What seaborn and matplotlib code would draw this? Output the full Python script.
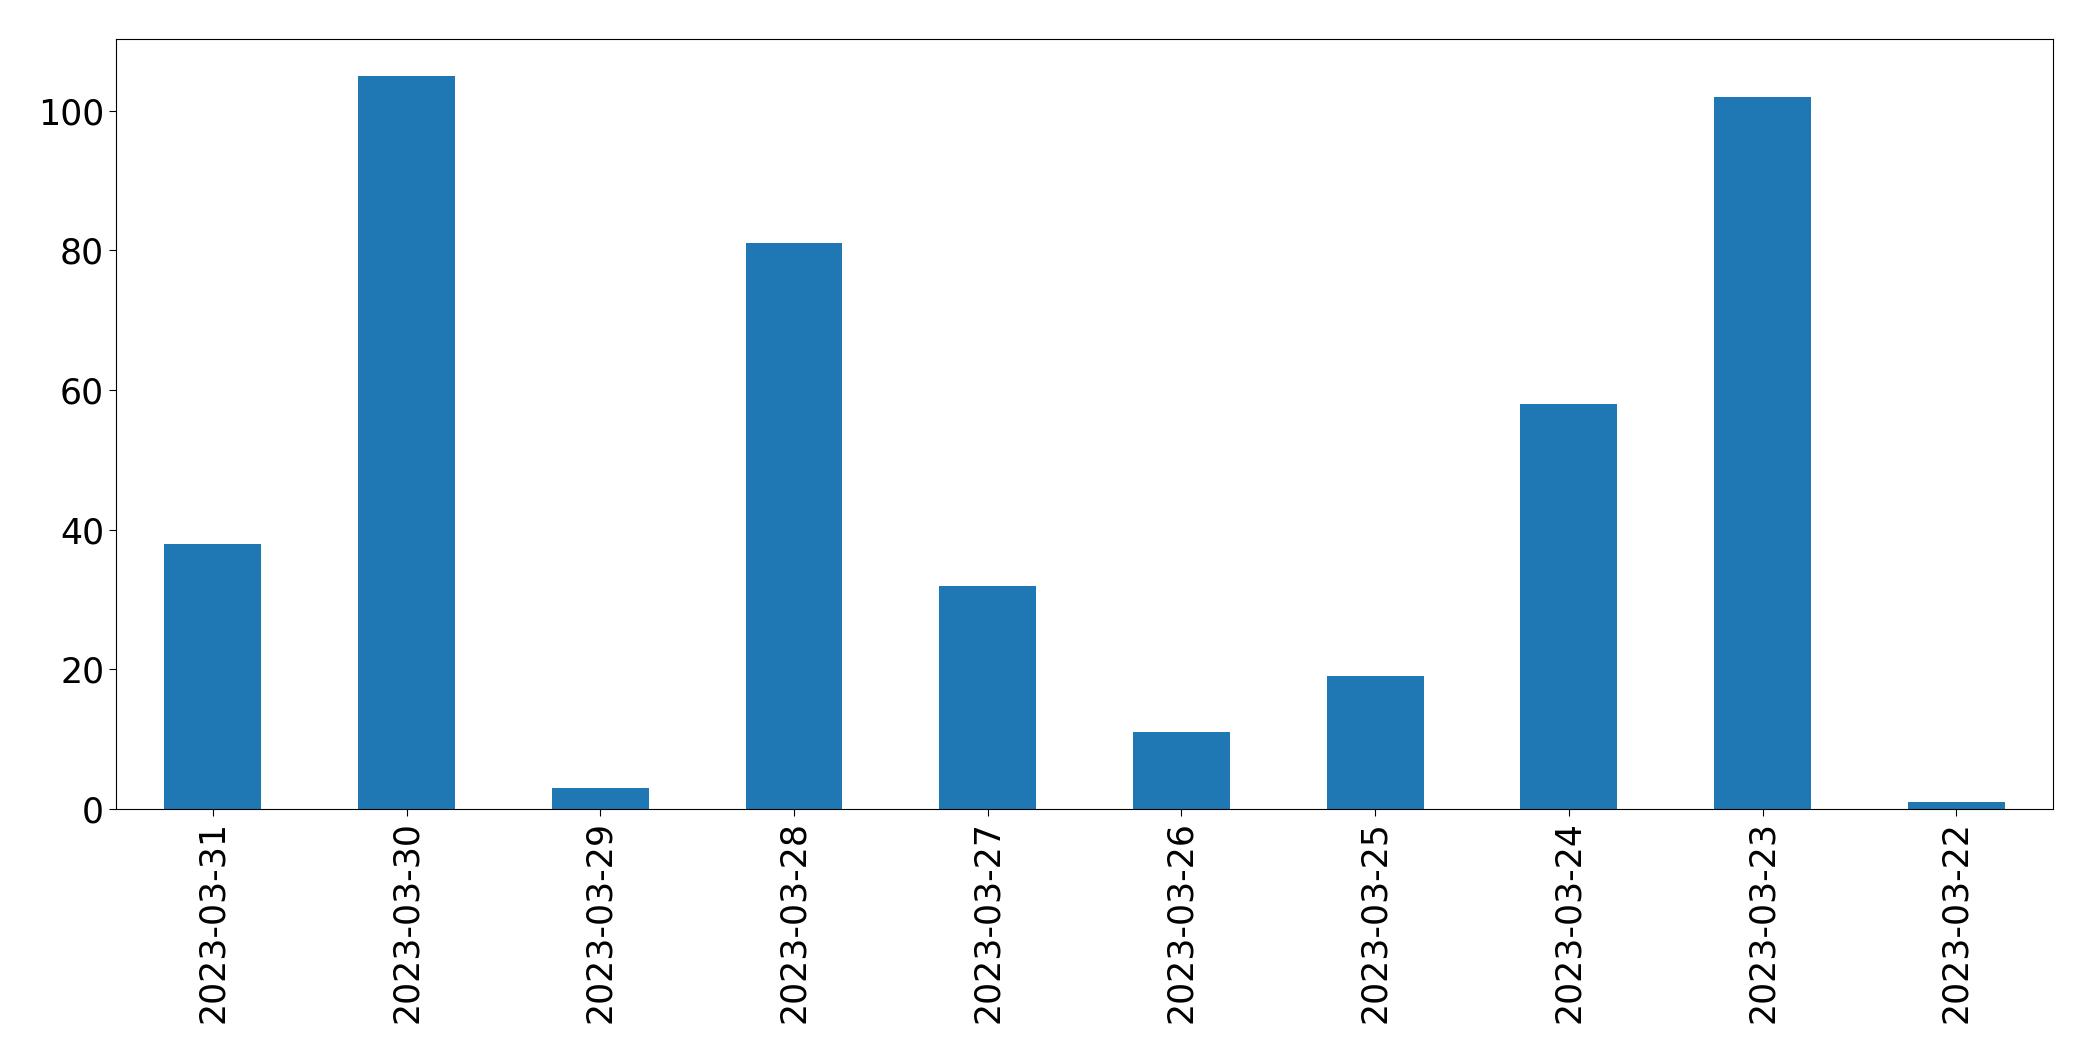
import matplotlib
matplotlib.use("Agg")
import matplotlib.pyplot as plt
import seaborn as sns
import pandas as pd

dates = ["2023-03-31", "2023-03-30", "2023-03-29", "2023-03-28", "2023-03-27",
         "2023-03-26", "2023-03-25", "2023-03-24", "2023-03-23", "2023-03-22"]
counts = [38, 105, 3, 81, 32, 11, 19, 58, 102, 1]

df = pd.DataFrame({"date": dates, "count": counts})

fig, ax = plt.subplots(figsize=(20.93, 10.61), dpi=100)
sns.barplot(data=df, x="date", y="count", order=dates, color="#1f77b4",
            saturation=1, width=0.5, linewidth=0, ax=ax)
ax.set_xlim(-0.5, len(dates) - 0.5)
ax.set_ylim(0, max(counts) * 1.05)
ax.set_xlabel("")
ax.set_ylabel("")
for s in ax.spines.values():
    s.set_color("black")
ax.tick_params(axis="both", labelsize=25, length=5, color="black")
ax.tick_params(axis="x", labelrotation=90)
fig.subplots_adjust(left=0.0554, right=0.981, top=0.963, bottom=0.2375)
fig.savefig("out.png", dpi=100)
